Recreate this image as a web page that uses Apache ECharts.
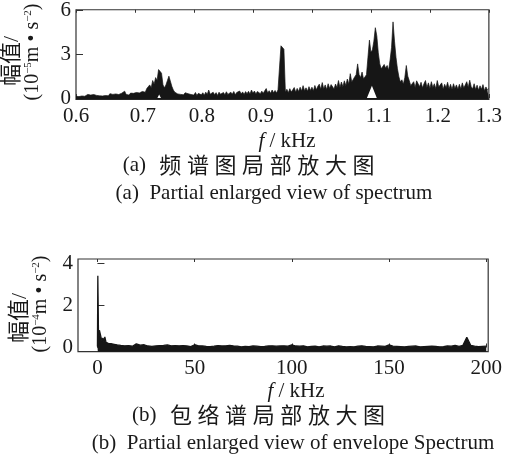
<!DOCTYPE html>
<html>
<head>
<meta charset="utf-8">
<script src="https://cdn.jsdelivr.net/npm/echarts@6/dist/echarts.min.js"></script>
<style>
  html, body { margin: 0; padding: 0; background: #fff; }
  #c { width: 505px; height: 463px; }
</style>
</head>
<body>
<div id="c"></div>
<script>
// (a) zoomed amplitude spectrum, 0.6–1.3 kHz, one value every 2.5 Hz (unit 1e-5 m/s^2)
const specStart = 0.6;
const specStep = 0.0025;
const specAmp = [
  0.12,0.2,0.1,0.18,0.14,0.22,0.12,0.16,0.25,0.13,0.2,0.15,0.24,0.12,0.18,0.27,0.15,0.21,0.14,0.26,
  0.17,0.23,0.15,0.3,0.19,0.25,0.16,0.28,0.2,0.24,0.18,0.33,0.22,0.47,0.25,0.3,0.2,0.34,0.26,0.32,
  0.24,0.38,0.3,0.35,0.28,0.45,0.5,0.4,0.65,0.55,0.9,0.7,1.2,0.95,1.4,1.2,1.95,1.9,1.7,0.9,
  0.7,0.9,1.2,1.5,1.4,0.8,0.55,0.4,0.35,0.28,0.4,0.25,0.33,0.22,0.36,0.27,0.3,0.38,0.24,0.32,
  0.2,0.38,0.18,0.32,0.42,0.22,0.36,0.19,0.4,0.24,0.55,0.26,0.2,0.4,0.23,0.37,0.18,0.4,0.26,0.22,
  0.38,0.22,0.43,0.25,0.2,0.4,0.26,0.45,0.22,0.38,0.25,0.48,0.27,0.42,0.24,0.44,0.3,0.46,0.27,0.55,
  0.32,0.48,0.28,0.45,0.53,0.3,0.47,0.32,0.5,0.65,0.34,0.5,0.32,0.55,0.36,0.52,0.34,0.56,0.45,3.58,
  3.5,3.35,0.4,0.6,0.36,0.64,0.42,0.56,0.72,0.4,0.66,0.44,0.74,0.48,0.85,0.5,0.7,0.46,0.78,0.52,
  0.74,0.5,0.86,0.56,0.8,0.95,0.6,1.06,0.62,0.9,0.58,0.98,0.66,0.92,1.04,0.62,0.96,0.7,1.2,0.72,
  1.1,0.78,1.18,0.85,1.3,0.95,1.67,1.1,1.0,1.45,1.6,2.34,1.6,1.4,1.78,1.3,1.22,1.6,2.8,3.97,
  3.13,3.3,3.9,4.82,4.26,3.1,2.34,2.0,2.1,2.3,2.05,2.23,1.9,2.6,3.47,5.22,3.9,2.8,2.0,1.44,
  1.1,1.25,0.95,1.4,2.23,1.5,1.2,0.85,0.98,1.12,0.72,1.18,1.3,0.78,1.08,0.7,0.98,1.2,0.72,1.04,
  0.66,1.12,0.72,0.98,0.64,1.2,0.76,0.68,1.04,0.6,0.94,0.7,1.08,0.62,0.94,0.58,0.98,0.66,0.9,0.6,
  0.94,0.62,1.04,0.68,0.58,1.12,0.72,1.22,0.78,0.62,0.98,0.58,0.88,0.54,0.84,0.6,0.92,0.5,0.76,0.56,
  0.65
];
// lower edge of the spectrum band where it lifts off zero
const specFloor = [[0.738,0],[0.741,0.25],[0.744,0],[1.0932,0],[1.1017,0.85],[1.110,0]];
const specTicksX = [0.6,0.7,0.8,0.9,1.0,1.1,1.2,1.3];
const specTicksY = [0,3,6];

// (b) zoomed envelope spectrum (unit 1e-4 m/s^2)
const envHeadF = [0,0.2,0.6,1.0,1.7,2.3,2.8,3.3,3.8,4.4,5.0,5.6,6.2,7.0,7.8,8.6,9.4,10.2];
const envHeadA = [0.05,3.4,0.2,0.82,0.78,0.3,0.45,0.28,0.5,0.25,0.3,0.2,0.28,0.18,0.22,0.15,0.2,0.12];
const envStart = 11; // kHz, 1 kHz spacing from here on
const envAmp = [
  0.14,0.1,0.15,0.08,0.12,0.09,0.11,0.06,0.1,0.17,
  0.08,0.11,0.06,0.13,0.15,0.07,0.1,0.05,0.09,0.07,
  0.05,0.09,0.06,0.1,0.07,0.12,0.05,0.08,0.06,0.09,
  0.04,0.08,0.06,0.09,0.05,0.07,0.1,0.04,0.07,0.13,
  0.06,0.08,0.04,0.07,0.09,0.05,0.07,0.04,0.08,0.06,
  0.05,0.09,0.04,0.07,0.06,0.08,0.04,0.1,0.05,0.07,
  0.04,0.06,0.08,0.03,0.07,0.05,0.09,0.04,0.06,0.07,
  0.03,0.06,0.08,0.04,0.07,0.05,0.03,0.07,0.05,0.08,
  0.04,0.06,0.03,0.07,0.05,0.08,0.04,0.06,0.07,0.13,
  0.05,0.07,0.03,0.06,0.04,0.08,0.05,0.03,0.07,0.05,
  0.04,0.06,0.08,0.03,0.05,0.07,0.04,0.06,0.03,0.07,
  0.05,0.03,0.06,0.08,0.04,0.05,0.07,0.03,0.06,0.04,
  0.07,0.03,0.05,0.06,0.04,0.08,0.03,0.05,0.07,0.04,
  0.06,0.03,0.05,0.07,0.04,0.06,0.03,0.05,0.07,0.12,
  0.04,0.06,0.03,0.05,0.07,0.04,0.06,0.03,0.08,0.05,
  0.03,0.06,0.04,0.07,0.05,0.03,0.06,0.04,0.07,0.05,
  0.03,0.06,0.04,0.05,0.07,0.03,0.06,0.04,0.05,0.07,
  0.04,0.06,0.05,0.1,0.07,0.05,0.12,0.1,0.16,0.49,
  0.3,0.1,0.18,0.06,0.12,0.04,0.07,0.05,0.03,0.06
];
const envTicksX = [0,50,100,150,200];
const envTicksY = [0,2,4];

const INK = '#161616';
const TEXT = '#1a1a1a';
const SERIF = '"Liberation Serif", "Times New Roman", serif';
const MIXED = '"Liberation Serif", "Noto Sans CJK SC", serif';

const specData = specAmp.map((v, i) => [+(specStart + i * specStep).toFixed(4), v]);
const envData = envHeadF.map((f, i) => [f, envHeadA[i]])
  .concat(envAmp.map((v, i) => [envStart + i, v]));

const labelStyle = { fontFamily: SERIF, fontSize: 21, color: TEXT };

function bottomX(gridIndex, min, max, ticks, fmt, rich) {
  return {
    type: 'value', gridIndex, position: 'bottom', min, max,
    axisLine: { show: false },
    splitLine: { show: false },
    axisTick: { show: true, inside: true, length: 4, customValues: ticks, lineStyle: { color: '#333' } },
    axisLabel: Object.assign({ customValues: ticks, margin: 6, formatter: fmt, rich }, labelStyle)
  };
}
function topX(gridIndex, min, max, ticks) {
  return {
    type: 'value', gridIndex, position: 'top', min, max,
    axisLine: { show: false },
    splitLine: { show: false },
    axisTick: { show: true, inside: true, length: 3, customValues: ticks, lineStyle: { color: '#333' } },
    axisLabel: { show: false }
  };
}
function leftY(gridIndex, min, max, ticks) {
  return {
    type: 'value', gridIndex, min, max,
    axisLine: { show: false },
    splitLine: { show: false },
    axisTick: { show: true, inside: true, length: 7, customValues: ticks, lineStyle: { color: '#333' } },
    axisLabel: Object.assign({ customValues: ticks, margin: 5 }, labelStyle)
  };
}

function vText(x, y, text, rich, size) {
  return {
    type: 'text', x, y, rotation: Math.PI / 2,
    style: {
      text, x: 0, y: 0, align: 'center', verticalAlign: 'middle',
      fontFamily: MIXED, fontSize: size, fill: TEXT, rich
    }
  };
}
function hText(x, y, text, size, rich) {
  return {
    type: 'text', x, y,
    style: {
      text, x: 0, y: 0, align: 'center', verticalAlign: 'middle',
      fontFamily: MIXED, fontSize: size, fill: TEXT, rich
    }
  };
}
// spaced CJK caption: every character is its own padded token
function spaced(str) {
  return Array.from(str).map(ch => '{c|' + ch + '}').join('');
}
const supRich = {
  s: { fontFamily: SERIF, fontSize: 11, verticalAlign: 'top', fill: TEXT }
};
const italRich = {
  i: { fontFamily: SERIF, fontStyle: 'italic', fontSize: 21, fill: TEXT }
};
const cjkRich = {
  c: { fontFamily: '"Noto Sans CJK SC", sans-serif', fontSize: 22, padding: [0, 2.8, 0, 2.8], fill: TEXT }
};
// inner frequency labels of (a) sit slightly right of their ticks
const midRich = {
  m: { fontFamily: SERIF, fontSize: 21, color: TEXT, padding: [0, 0, 0, 16] }
};
const specFmt = v => {
  const s = v.toFixed(1);
  return (v > 0.65 && v < 1.25) ? '{m|' + s + '}' : s;
};

const chart = echarts.init(document.getElementById('c'), null, { renderer: 'canvas' });
chart.setOption({
  animation: false,
  backgroundColor: '#fff',
  grid: [
    { left: 76, right: 16, top: 9, height: 90.5, show: true, borderColor: '#333', borderWidth: 1.2, backgroundColor: 'transparent' },
    { left: 78, right: 9, top: 259, height: 92.7, show: true, borderColor: '#333', borderWidth: 1.2, backgroundColor: 'transparent' }
  ],
  xAxis: [
    bottomX(0, 0.6, 1.3, specTicksX, specFmt, midRich),
    topX(0, 0.6, 1.3, specTicksX),
    bottomX(1, -10, 201, envTicksX, v => String(v)),
    topX(1, -10, 201, envTicksX)
  ],
  yAxis: [
    leftY(0, -0.1, 6.05, specTicksY),
    leftY(1, -0.2, 4.2, envTicksY)
  ],
  series: [
    {
      type: 'line', xAxisIndex: 0, yAxisIndex: 0, data: specData,
      symbol: 'none', lineStyle: { color: INK, width: 0.7 },
      areaStyle: { color: INK, opacity: 1, origin: 'start' }, z: 2
    },
    {
      type: 'line', xAxisIndex: 0, yAxisIndex: 0, data: specFloor,
      symbol: 'none', lineStyle: { opacity: 0 },
      areaStyle: { color: '#fff', opacity: 1, origin: 'auto' }, z: 3
    },
    {
      type: 'line', xAxisIndex: 2, yAxisIndex: 1, data: envData,
      symbol: 'none', lineStyle: { color: INK, width: 1.3 },
      areaStyle: { color: INK, opacity: 1, origin: 'start' }, z: 2
    }
  ],
  graphic: [
    vText(12.5, 61, '幅值/', null, 22),
    vText(33, 52, '(10{s|−5}m • s{s|−2})', supRich, 20),
    vText(20, 318, '幅值/', null, 22),
    vText(41, 304, '(10{s|−4}m • s{s|−2})', supRich, 20),
    hText(287, 141, '{i|f} / kHz', 21, italRich),
    hText(250, 165, '(a)  ' + spaced('频谱图局部放大图'), 21, cjkRich),
    hText(274, 193, '(a)  Partial enlarged view of spectrum', 21),
    hText(296, 391, '{i|f} / kHz', 21, italRich),
    hText(260, 415, '(b)  ' + spaced('包络谱局部放大图'), 21, cjkRich),
    hText(293, 443, '(b)  Partial enlarged view of envelope Spectrum', 21)
  ]
});
</script>
</body>
</html>
